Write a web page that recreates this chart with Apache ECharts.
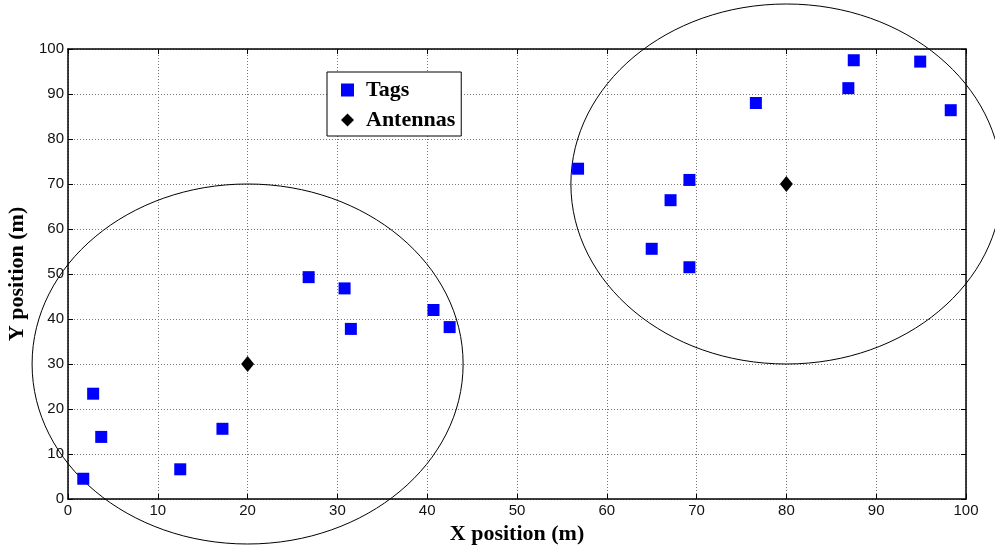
<!DOCTYPE html>
<html>
<head>
<meta charset="utf-8">
<script src="https://cdn.jsdelivr.net/npm/echarts@6/dist/echarts.min.js"></script>
<style>
  html, body { margin: 0; padding: 0; background: #fff; }
  #chart { width: 995px; height: 549px; }
</style>
</head>
<body>
<div id="chart"></div>
<script>
// tag positions (m)
const tagX = [1.7, 2.8, 3.7, 12.5, 17.2, 26.8, 30.8, 31.5, 40.7, 42.5,
              56.8, 65.0, 67.1, 69.2, 69.2, 76.6, 86.9, 87.5, 94.9, 98.3]
const tagY = [4.5, 23.4, 13.8, 6.6, 15.6, 49.3, 46.8, 37.8, 42.0, 38.2,
              73.4, 55.6, 66.4, 70.9, 51.5, 88.0, 91.3, 97.5, 97.2, 86.4]
// antenna positions (m)
const antX = [20, 80]
const antY = [30, 70]
// coverage range around each antenna (semi axes in data units)
const rangeX = [24, 24]
const rangeY = [40, 40]

const tags = tagX.map((x, i) => [x, tagY[i]])
const antennas = antX.map((x, i) => [x, antY[i]])
const ranges = antX.map((x, i) => [x, antY[i], rangeX[i], rangeY[i]])

const chart = echarts.init(document.getElementById('chart'))

const gridLine = { show: true, lineStyle: { color: '#777', type: [1, 2], width: 1 } }
const axisLine = { show: true, onZero: false, lineStyle: { color: '#000', width: 1.5 } }
const labelFont = { color: '#111', fontSize: 15, fontFamily: 'Liberation Sans' }
const nameFont = { color: '#000', fontSize: 22, fontWeight: 'bold', fontFamily: 'Liberation Serif' }

const option = {
  animation: false,
  backgroundColor: '#fff',
  grid: { left: 68, right: 29, top: 49, bottom: 50, outerBoundsMode: 'none', containLabel: false },
  legend: {
    data: ['Tags', 'Antennas'],
    orient: 'vertical',
    left: 327,
    top: 72,
    padding: [7, 6, 5, 14],
    itemGap: 8,
    itemWidth: 13,
    itemHeight: 13,
    backgroundColor: '#fff',
    borderColor: '#000',
    borderWidth: 1,
    borderRadius: 0,
    textStyle: { fontSize: 22, fontWeight: 'bold', fontFamily: 'Liberation Serif', color: '#000', lineHeight: 21, padding: [0, 0, 0, 7] }
  },
  xAxis: [{
    type: 'value', min: 0, max: 100, interval: 10,
    name: 'X position (m)', nameLocation: 'middle', nameGap: 24, nameTextStyle: nameFont,
    axisLine: axisLine,
    axisTick: { show: true, inside: true, length: 5, lineStyle: { color: '#000' } },
    axisLabel: Object.assign({ margin: 4 }, labelFont),
    splitLine: gridLine
  }, {
    type: 'value', min: 0, max: 100, interval: 10, position: 'top',
    axisLine: axisLine,
    axisTick: { show: true, inside: true, length: 5, lineStyle: { color: '#000' } },
    axisLabel: { show: false },
    splitLine: { show: false }
  }],
  yAxis: [{
    type: 'value', min: 0, max: 100, interval: 10,
    name: 'Y position (m)', nameLocation: 'middle', nameGap: 36, nameTextStyle: nameFont,
    axisLine: axisLine,
    axisTick: { show: true, inside: true, length: 5, lineStyle: { color: '#000' } },
    axisLabel: Object.assign({ margin: 4 }, labelFont),
    splitLine: gridLine
  }, {
    type: 'value', min: 0, max: 100, interval: 10, position: 'right',
    axisLine: axisLine,
    axisTick: { show: true, inside: true, length: 5, lineStyle: { color: '#000' } },
    axisLabel: { show: false },
    splitLine: { show: false }
  }],
  series: [{
    name: 'Ranges',
    type: 'custom',
    clip: false,
    silent: true,
    data: ranges,
    renderItem: function (params, api) {
      const c = api.coord([api.value(0), api.value(1)])
      const s = api.size([api.value(2), api.value(3)])
      return {
        type: 'ellipse',
        shape: { cx: c[0], cy: c[1], rx: s[0], ry: s[1] },
        style: { fill: 'none', stroke: '#000', lineWidth: 1 }
      }
    },
    z: 1
  }, {
    name: 'Tags',
    type: 'scatter',
    data: tags,
    symbol: 'rect',
    symbolSize: 12,
    itemStyle: { color: '#0000ff', opacity: 1 },
    z: 3
  }, {
    name: 'Antennas',
    type: 'scatter',
    data: antennas,
    symbol: 'diamond',
    symbolSize: [13, 16],
    itemStyle: { color: '#000', opacity: 1 },
    z: 3
  }]
}

chart.setOption(option)
</script>
</body>
</html>
